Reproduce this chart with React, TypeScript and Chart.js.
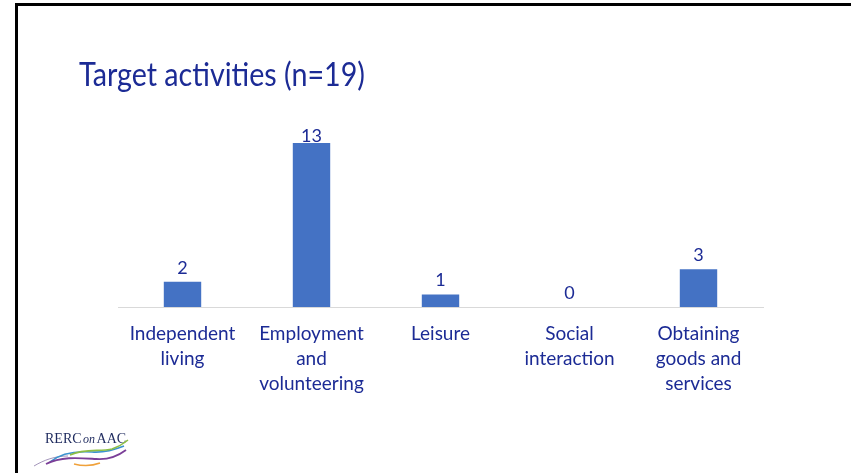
import React, { useEffect, useRef, useState } from "react";
import { Chart, registerables } from "chart.js";

Chart.register(...registerables);

const titleText = "Target activities (n=19)";
const categories: string[][] = [
  ["Independent", "living"],
  ["Employment", "and", "volunteering"],
  ["Leisure"],
  ["Social", "interaction"],
  ["Obtaining", "goods and", "services"],
];
const counts: number[] = [2, 13, 1, 0, 3];
const yMin = 0;
const yMax = 13;

const TEXT = "#1C2B95";
const BAR = "#4472C4";

const valueLabels = {
  id: "valueLabels",
  afterDatasetsDraw(chart: any) {
    const ctx = chart.ctx;
    const meta = chart.getDatasetMeta(0);
    ctx.save();
    ctx.font = "18px Lato";
    ctx.fillStyle = TEXT;
    ctx.textAlign = "center";
    ctx.textBaseline = "alphabetic";
    meta.data.forEach((bar: any, i: number) => {
      const y = Math.max(bar.y - 8, chart.chartArea.top - 1);
      ctx.fillText(String(counts[i]), bar.x, y);
    });
    ctx.restore();
  },
};

function Logo() {
  return (
    <svg
      width={140}
      height={53}
      style={{ position: "absolute", left: 0, top: 420 }}
      viewBox="0 420 140 53"
    >
      <text
        x={45}
        y={443}
        fontFamily="'Liberation Serif', 'DejaVu Serif', serif"
        fontSize={14}
        fill="#1E2A5E"
      >
        <tspan>RERC</tspan>
        <tspan dx={1.5} fontStyle="italic" fontSize={12}>on</tspan>
        <tspan dx={1.5}>AAC</tspan>
      </text>
      <path d="M34 466 C 44 460, 55 456, 68 456" stroke="#8C7AA8" strokeWidth={0.8} fill="none" />
      <path d="M50 462 C 62 452, 78 451, 92 452 C 104 453, 114 450, 124 446" stroke="#3C93CF" strokeWidth={1.6} fill="none" />
      <path d="M70 455 C 85 448, 100 452, 112 449 C 118 447, 123 444, 128 440" stroke="#8DBE45" strokeWidth={1.6} fill="none" />
      <path d="M46 464 C 62 456, 80 458, 96 459 C 108 460, 118 456, 126 450" stroke="#7B3F98" strokeWidth={1.8} fill="none" />
      <path d="M74 464 C 82 466, 92 466, 100 463" stroke="#F0A13A" strokeWidth={1.6} fill="none" />
    </svg>
  );
}

export default function App() {
  const canvasRef = useRef<HTMLCanvasElement | null>(null);
  const [titleScale, setTitleScale] = useState(0.92);

  useEffect(() => {
    const c = document.createElement("canvas").getContext("2d");
    if (c) {
      c.font = "32px Lato";
      const w = c.measureText(titleText).width;
      if (w > 0) setTitleScale(286 / w);
    }
  }, []);

  useEffect(() => {
    if (!canvasRef.current) return;
    const chart = new Chart(canvasRef.current, {
      type: "bar",
      data: {
        labels: categories,
        datasets: [
          {
            data: counts,
            backgroundColor: BAR,
            borderWidth: 0,
            barPercentage: 0.29,
            categoryPercentage: 1,
          },
        ],
      },
      options: {
        animation: false,
        responsive: false,
        maintainAspectRatio: false,
        layout: { padding: { left: 118, right: 88, top: 143, bottom: 0 } },
        plugins: {
          legend: { display: false },
          tooltip: { enabled: false },
          title: { display: false },
        },
        scales: {
          x: {
            type: "category",
            offset: true,
            grid: { display: false, drawTicks: false },
            border: { display: true, color: "#D9D9D9", width: 1 },
            ticks: {
              color: TEXT,
              font: { family: "Lato", size: 19, lineHeight: 25 / 19 },
              padding: 14,
              maxRotation: 0,
              minRotation: 0,
              autoSkip: false,
            },
            afterFit(scale: any) {
              scale.height = 166;
            },
          },
          y: { display: false, min: yMin, max: yMax },
        },
      },
      plugins: [valueLabels],
    } as any);
    return () => chart.destroy();
  }, []);

  return (
    <div
      style={{
        position: "fixed",
        left: 0,
        top: 0,
        width: 851,
        height: 473,
        background: "#fff",
        overflow: "hidden",
      }}
    >
      <div
        style={{
          position: "absolute",
          left: 15,
          top: 3,
          right: -10,
          bottom: -10,
          borderTop: "3px solid #000",
          borderLeft: "3px solid #000",
        }}
      />
      <canvas
        ref={canvasRef}
        width={851}
        height={473}
        style={{ position: "absolute", left: 0, top: 0 }}
      />
      <div
        style={{
          position: "absolute",
          left: 79,
          top: 58,
          fontFamily: "Lato",
          fontSize: 32,
          lineHeight: "32px",
          color: TEXT,
          whiteSpace: "nowrap",
          transform: `scaleX(${titleScale})`,
          transformOrigin: "0 0",
        }}
      >
        {titleText}
      </div>
      <Logo />
    </div>
  );
}
